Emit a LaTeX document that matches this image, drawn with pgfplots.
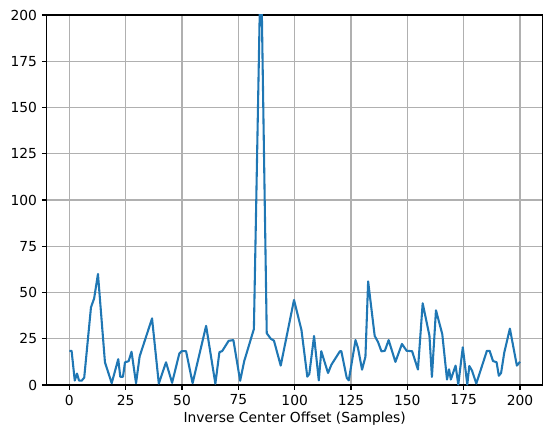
\documentclass[border=0pt]{standalone}
\usepackage{fontspec}
\setmainfont{DejaVu Sans}
\usepackage{pgfplots}
\pgfplotsset{compat=1.18}
\definecolor{mplblue}{HTML}{1F77B4}
\definecolor{mplgrid}{HTML}{B0B0B0}
\begin{document}
\begin{tikzpicture}
\begin{axis}[
  scale only axis,
  width=356.9bp, height=266.4bp,
  xmin=-10, xmax=210, ymin=0, ymax=200,
  xtick={0,25,...,200}, ytick={0,25,...,200},
  xtick pos=left, ytick pos=left,
  tick align=outside,
  major tick length=3.5bp,
  every tick/.style={black, line width=0.8bp},
  axis line style={line width=0.8bp},
  grid=major,
  grid style={mplgrid, line width=0.8bp},
  /pgf/number format/assume math mode=true,
  ticklabel style={font=\fontsize{10}{12}\selectfont},
  xlabel={Inverse Center Offset (Samples)},
  xlabel style={font=\fontsize{10}{12}\selectfont, yshift=2bp},
  clip=true,
]
\addplot[mplblue, line width=1.5bp, line join=round] coordinates {
(0,18.5) (1,18.5) (2.4,2.4) (3.4,6.2) (4.3,2.4) (5.5,2.4) (6.6,4)
(9.6,42) (11,46.8) (12.7,60) (15.8,12.3) (18.8,1) (21.7,14) (22.6,4.5)
(23.8,4.5) (24.7,12.3) (26.3,12.9) (27.6,18) (29.6,1) (31.2,15.5)
(36.7,36) (39.7,0.8) (42.9,12.3) (45.6,1.2) (48.8,17) (49.8,18.3)
(51.8,18.3) (54.7,1) (60.7,32) (64.8,0.7) (66.6,17.8) (67.8,18.3)
(70.7,23.9) (72.8,24.3) (75.8,2.3) (77.6,12.9) (81.9,30.3) (85,235)
(87.6,28) (89.4,25) (90.8,24) (93.8,10.5) (99.7,46) (103,29.8)
(105.6,4.5) (106.5,6) (108.6,26.5) (110.7,2.5) (111.8,18.3) (114.8,6.5)
(116.3,11) (120.1,18.3) (120.7,18.3) (123.1,3.9) (124,2.5) (127,24.3)
(128.1,20) (129.9,8.3) (131.4,15.3) (132.6,56) (135.5,26.6) (137,23.2)
(138.5,18.2) (140,18.5) (141.7,24.3) (144.7,12.5) (147.6,22.2)
(149.7,18.5) (152.1,18.3) (154.7,8.4) (156.8,44.2) (159.8,26.7)
(160.9,4.4) (162.7,40.4) (165.5,27.5) (167.6,3) (168.5,8.5) (169.3,3)
(171.4,10.5) (172.6,0.3) (174.6,20.4) (176.6,0.3) (177.5,10.3)
(178.7,7.8) (180.6,0.8) (185.3,18.5) (186.5,18.5) (188,13) (189.6,12.3)
(190.6,5) (191.6,6.5) (193,17.5) (195.5,30.5) (198.6,10.5) (200,12.6)
};
\coordinate (bl) at (rel axis cs:0,0);
\coordinate (tr) at (rel axis cs:1,1);
\end{axis}
\pgfresetboundingbox
\path ([shift={(-33.7bp,-38.2bp)}]bl) rectangle ([shift={(6.8bp,10.8bp)}]tr);
\end{tikzpicture}
\end{document}
